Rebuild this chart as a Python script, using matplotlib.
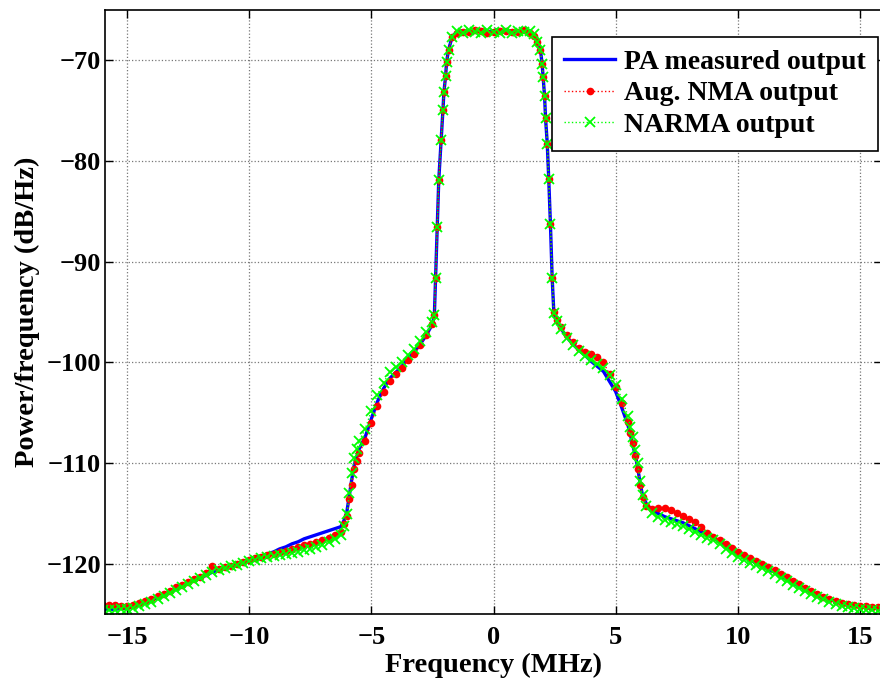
import matplotlib
matplotlib.use("Agg")
import matplotlib.pyplot as plt

plt.rcParams["font.family"] = ["Liberation Serif", "DejaVu Serif"]
plt.rcParams["font.weight"] = "bold"

# frequency points (MHz), split by region
freq_left = [-16, -15.75, -15.5, -15.25, -15, -14.75, -14.5, -14.25, -14, -13.75,
             -13.5, -13.25, -13, -12.75, -12.5, -12.25, -12, -11.75, -11.5, -11.25,
             -11, -10.75, -10.5, -10.25, -10, -9.75, -9.5, -9.25, -9, -8.75,
             -8.5, -8.25, -8, -7.75, -7.5, -7.25, -7, -6.75, -6.5, -6.25,
             -6.1, -6, -5.9, -5.8, -5.7, -5.6, -5.5, -5.25, -5, -4.75,
             -4.5, -4.25, -4, -3.75, -3.5, -3.25, -3, -2.75, -2.5, -2.42]
freq_edge_l = [-2.37, -2.30, -2.24, -2.14, -2.07, -2.03, -1.96, -1.92, -1.84, -1.69]
freq_flat = [-1.5, -1.25, -1, -0.75, -0.5, -0.25, 0, 0.25, 0.5, 0.75, 1, 1.25, 1.5, 1.65]
freq_edge_r = [1.79, 1.92, 1.99, 2.03, 2.09, 2.13, 2.2, 2.26, 2.33, 2.4]
freq_right = [2.47, 2.6, 2.75, 3, 3.25, 3.5, 3.75, 4, 4.25, 4.5,
              4.75, 5, 5.25, 5.5, 5.6, 5.7, 5.8, 5.9, 6, 6.1,
              6.25, 6.5, 6.75, 7, 7.25, 7.5, 7.75, 8, 8.25, 8.5,
              8.75, 9, 9.25, 9.5, 9.75, 10, 10.25, 10.5, 10.75, 11,
              11.25, 11.5, 11.75, 12, 12.25, 12.5, 12.75, 13, 13.25, 13.5,
              13.75, 14, 14.25, 14.5, 14.75, 15, 15.25, 15.5, 15.75, 16]

edge_l = [-91.6, -86.6, -81.9, -77.9, -75.0, -73.2, -71.6, -70.2, -69.0, -67.7]
edge_r = [-68.2, -69.0, -70.4, -71.7, -73.6, -75.8, -78.3, -81.8, -86.3, -91.6]

# PA measured output (dB/Hz)
pa_left = [-124.5, -124.5, -124.5, -124.4, -124.4, -124.2, -124.0, -123.8, -123.6, -123.3,
           -123.1, -122.8, -122.5, -122.2, -121.9, -121.6, -121.4, -121.1, -120.8, -120.6,
           -120.4, -120.2, -120.0, -119.8, -119.6, -119.4, -119.2, -119.0, -118.8, -118.5,
           -118.3, -118.0, -117.8, -117.5, -117.3, -117.1, -116.9, -116.7, -116.5, -116.3,
           -115.6, -114.8, -113.2, -111.6, -110.2, -109.4, -108.6, -107.4, -105.6, -103.9,
           -102.6, -101.6, -101.0, -100.4, -99.6, -99.0, -98.2, -97.3, -96.2, -95.3]
pa_flat = [-67.2, -67.1, -67.3, -67.1, -67.0, -67.2, -67.1, -67.0, -67.2, -67.1, -67.3, -67.1, -67.2, -67.5]
pa_right = [-95.1, -95.9, -96.6, -97.5, -98.2, -98.8, -99.3, -99.9, -100.4, -100.9,
            -101.9, -102.9, -104.5, -106.2, -107.2, -108.2, -109.2, -110.4, -112.0, -113.2,
            -114.0, -114.7, -115.0, -115.3, -115.5, -115.7, -115.9, -116.2, -116.5, -116.8,
            -117.1, -117.4, -117.8, -118.2, -118.6, -119.0, -119.3, -119.6, -119.9, -120.2,
            -120.5, -120.8, -121.2, -121.5, -121.9, -122.2, -122.5, -122.8, -123.1, -123.3,
            -123.5, -123.7, -123.9, -124.0, -124.1, -124.2, -124.3, -124.4, -124.4, -124.5]

# Aug. NMA output
nma_left = [-124.1, -124.1, -124.1, -124.2, -124.2, -124.1, -123.9, -123.7, -123.5, -123.2,
            -123.0, -122.7, -122.3, -122.1, -121.8, -121.5, -121.3, -120.9, -120.2, -120.5,
            -120.3, -120.2, -120.0, -119.8, -119.6, -119.4, -119.3, -119.1, -119.0, -118.8,
            -118.7, -118.5, -118.3, -118.1, -118.0, -117.8, -117.6, -117.4, -117.1, -116.8,
            -116.0, -115.2, -113.6, -112.2, -110.6, -109.8, -109.0, -107.8, -106.0, -104.3,
            -102.9, -101.8, -101.2, -100.6, -99.8, -99.2, -98.3, -97.3, -96.2, -95.3]
nma_flat = [-67.3, -67.2, -67.2, -67.0, -67.1, -67.3, -67.2, -67.1, -67.1, -67.2, -67.2, -67.0, -67.3, -67.6]
nma_right = [-95.0, -95.8, -96.5, -97.3, -98.0, -98.6, -99.0, -99.2, -99.5, -100.0,
             -101.2, -102.4, -104.0, -105.9, -107.0, -108.0, -109.3, -110.6, -112.2, -113.4,
             -114.2, -114.5, -114.4, -114.4, -114.6, -114.9, -115.2, -115.5, -115.8, -116.3,
             -116.9, -117.3, -117.6, -118.0, -118.4, -118.8, -119.1, -119.4, -119.7, -120.0,
             -120.3, -120.6, -121.0, -121.3, -121.7, -122.0, -122.4, -122.7, -123.0, -123.3,
             -123.5, -123.7, -123.9, -124.0, -124.1, -124.2, -124.2, -124.3, -124.3, -124.3]

# NARMA output
narma_left = [-124.6, -124.6, -124.6, -124.5, -124.5, -124.4, -124.2, -124.0, -123.8, -123.5,
              -123.2, -122.9, -122.6, -122.3, -122.0, -121.7, -121.4, -121.1, -120.8, -120.6,
              -120.4, -120.2, -120.1, -119.9, -119.7, -119.6, -119.4, -119.3, -119.2, -119.1,
              -119.0, -118.9, -118.8, -118.6, -118.5, -118.3, -118.1, -117.8, -117.5, -117.1,
              -116.2, -115.0, -113.0, -111.0, -109.5, -108.6, -107.8, -106.6, -104.8, -103.2,
              -102.0, -101.0, -100.5, -100.0, -99.3, -98.7, -97.9, -97.0, -96.0, -95.3]
narma_flat = [-67.1, -67.3, -67.0, -67.2, -67.3, -67.0, -67.2, -67.3, -67.0, -67.3, -67.1, -67.2, -67.1, -67.4]
narma_right = [-95.1, -95.9, -96.7, -97.6, -98.3, -98.9, -99.4, -99.8, -100.2, -100.6,
               -101.3, -102.2, -103.6, -105.3, -106.4, -107.4, -108.7, -110.0, -111.8, -113.2,
               -114.2, -114.9, -115.3, -115.6, -115.8, -116.0, -116.2, -116.5, -116.8, -117.1,
               -117.4, -117.6, -118.0, -118.5, -118.9, -119.3, -119.6, -119.9, -120.1, -120.4,
               -120.7, -121.0, -121.4, -121.7, -122.1, -122.4, -122.7, -123.0, -123.3, -123.5,
               -123.8, -124.0, -124.2, -124.3, -124.4, -124.5, -124.6, -124.6, -124.7, -124.7]

freq = freq_left + freq_edge_l + freq_flat + freq_edge_r + freq_right
pa = pa_left + edge_l + pa_flat + edge_r + pa_right
nma = nma_left + edge_l + nma_flat + edge_r + nma_right
narma = narma_left + edge_l + narma_flat + edge_r + narma_right

fig = plt.figure(figsize=(8.8, 6.79), dpi=100)
ax = fig.add_axes([0.1193, 0.0951, 0.883, 0.8909])

ax.plot(freq, pa, color="#0000ff", linewidth=2.4, label="PA measured output")
ax.plot(freq, nma, color="#ff0000", linestyle=":", linewidth=1, marker="o",
        markersize=5.5, markeredgewidth=0, label="Aug. NMA output")
ax.plot(freq, narma, color="#00ff00", linestyle=":", linewidth=1, marker="x",
        markersize=7, markeredgewidth=1.3, label="NARMA output")

ax.set_xlim(-15.9, 15.9)
ax.set_ylim(-125, -65)
ax.set_xticks([-15, -10, -5, 0, 5, 10, 15])
ax.set_yticks([-120, -110, -100, -90, -80, -70])
ax.tick_params(direction="in", top=True, right=True, labelsize=19, length=6, width=1)
ax.tick_params(axis="x", pad=8)
ax.tick_params(axis="y", pad=3)
ax.grid(True, linestyle=":", color="#777777", linewidth=0.9)
for s in ax.spines.values():
    s.set_linewidth(1.2)

ax.set_xlabel("Frequency (MHz)", fontsize=20.5, fontweight="bold")
ax.set_ylabel("Power/frequency (dB/Hz)", fontsize=20.5, fontweight="bold")
ax.xaxis.set_label_coords(0.5, -0.064)
ax.yaxis.set_label_coords(-0.083, 0.5)

leg = ax.legend(loc="upper right", bbox_to_anchor=(878 / 880, 1 - 37 / 679),
                bbox_transform=fig.transFigure, fontsize=20, fancybox=False,
                framealpha=1, edgecolor="black", borderaxespad=0, handlelength=1.85,
                handletextpad=0.3, borderpad=0.45, labelspacing=0.22)
leg.get_frame().set_linewidth(1.2)
for t in leg.get_texts():
    t.set_fontweight("bold")

plt.savefig("out.png", dpi=100)
